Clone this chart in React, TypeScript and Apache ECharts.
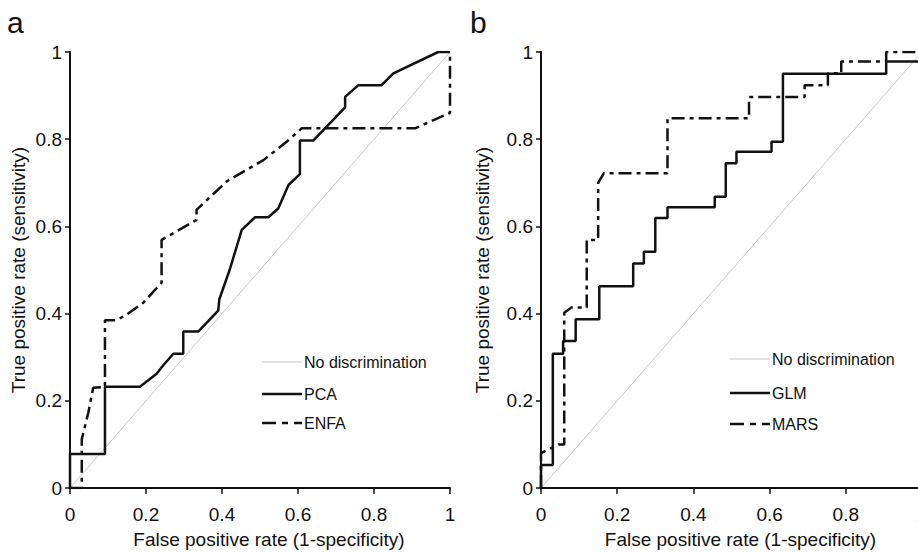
import React, { useEffect, useRef } from "react";
import * as echarts from "echarts";

const diagonal: number[][] = [[0, 0], [1, 1]];

const pca: number[][] = [[0,0],[0,0.078],[0.092,0.078],[0.092,0.232],[0.184,0.232],[0.228,0.262],[0.245,0.281],[0.272,0.308],[0.298,0.308],[0.298,0.359],[0.338,0.359],[0.39,0.407],[0.393,0.433],[0.42,0.5],[0.452,0.592],[0.487,0.621],[0.522,0.621],[0.548,0.641],[0.575,0.695],[0.605,0.72],[0.605,0.797],[0.64,0.797],[0.724,0.873],[0.724,0.897],[0.759,0.924],[0.82,0.924],[0.851,0.951],[0.969,1],[1,1]];

const enfa: number[][] = [[0,0],[0.031,0],[0.031,0.112],[0.048,0.172],[0.061,0.23],[0.092,0.232],[0.092,0.385],[0.123,0.385],[0.149,0.398],[0.193,0.425],[0.241,0.471],[0.241,0.569],[0.333,0.615],[0.333,0.638],[0.412,0.703],[0.509,0.752],[0.57,0.794],[0.61,0.825],[0.908,0.825],[0.996,0.859],[1,0.86],[1,1]];

const glm: number[][] = [[0,0],[0,0.053],[0.031,0.053],[0.031,0.308],[0.058,0.308],[0.058,0.337],[0.091,0.337],[0.091,0.387],[0.153,0.387],[0.153,0.463],[0.242,0.463],[0.242,0.515],[0.27,0.515],[0.27,0.542],[0.3,0.542],[0.3,0.619],[0.332,0.619],[0.332,0.644],[0.456,0.644],[0.456,0.668],[0.485,0.668],[0.485,0.745],[0.513,0.745],[0.513,0.771],[0.605,0.771],[0.605,0.794],[0.635,0.794],[0.635,0.95],[0.906,0.95],[0.906,0.978],[1,0.978]];

const mars: number[][] = [[0,0],[0,0.08],[0.046,0.1],[0.061,0.1],[0.061,0.402],[0.08,0.414],[0.12,0.414],[0.12,0.569],[0.15,0.569],[0.15,0.7],[0.165,0.722],[0.332,0.722],[0.332,0.848],[0.546,0.848],[0.546,0.897],[0.692,0.897],[0.692,0.924],[0.753,0.924],[0.753,0.951],[0.788,0.951],[0.788,0.978],[0.906,0.978],[0.906,1],[1,1]];

const xTitle = "False positive rate (1-specificity)";
const yTitle = "True positive rate (sensitivity)";
const legendA = ["No discrimination", "PCA", "ENFA"];
const legendB = ["No discrimination", "GLM", "MARS"];

const FONT = "Liberation Sans, Arial, sans-serif";
const DASHDOT = [13, 5, 4, 5];

function axisX(gridIndex: number) {
  return {
    type: "value", gridIndex, min: 0, max: 1, interval: 0.2,
    name: xTitle, nameLocation: "middle", nameGap: 42,
    nameTextStyle: { fontFamily: FONT, fontSize: 19, color: "#111", padding: [0, 0, 0, 18] },
    axisLine: { lineStyle: { color: "#111", width: 2 } },
    axisTick: { show: true, length: 6, lineStyle: { color: "#111", width: 1.5 } },
    axisLabel: { margin: 17, fontFamily: FONT, fontSize: 19, color: "#111", showMaxLabel: true },
    splitLine: { show: false },
  };
}
function axisY(gridIndex: number, gap: number) {
  return {
    type: "value", gridIndex, min: 0, max: 1, interval: 0.2,
    name: yTitle, nameLocation: "middle", nameGap: gap, nameRotate: 90,
    nameTextStyle: { fontFamily: FONT, fontSize: 19, color: "#111" },
    axisLine: { show: true, lineStyle: { color: "#111", width: 2 } },
    axisTick: { show: true, length: 5, lineStyle: { color: "#111", width: 1.5 } },
    axisLabel: { margin: 8, fontFamily: FONT, fontSize: 19, color: "#111" },
    splitLine: { show: false },
  };
}

function series(name: string, data: number[][], idx: number, kind: "diag" | "solid" | "dash") {
  const lineStyle =
    kind === "diag" ? { color: "#c8c8c8", width: 1 } :
    kind === "solid" ? { color: "#111", width: 2.5 } :
    { color: "#111", width: 2.5, type: DASHDOT };
  return {
    name, type: "line", data, xAxisIndex: idx, yAxisIndex: idx,
    symbol: "none", lineStyle, silent: true, z: kind === "diag" ? 1 : 3,
  };
}

function legendGraphic(x0: number, x1: number, ys: number[], labels: string[]) {
  const els: any[] = [];
  const styles = [
    { stroke: "#c8c8c8", lineWidth: 1 },
    { stroke: "#111", lineWidth: 2.5 },
    { stroke: "#111", lineWidth: 2.5, lineDash: [14, 6, 6, 6] },
  ];
  labels.forEach((t, i) => {
    els.push({ type: "line", shape: { x1: x0, y1: ys[i], x2: x1, y2: ys[i] }, style: styles[i] });
    els.push({
      type: "text", x: x1 + 2, y: ys[i],
      style: { text: t, fontFamily: FONT, fontSize: 16, fill: "#111", verticalAlign: "middle", align: "left" },
    });
  });
  return els;
}

export default function App() {
  const ref = useRef<HTMLDivElement>(null);
  useEffect(() => {
    if (!ref.current) return;
    const chart = echarts.init(ref.current, undefined, { renderer: "svg" });
    chart.setOption({
      animation: false,
      backgroundColor: "#fff",
      grid: [
        { left: 70, top: 52, width: 380, height: 436, outerBoundsMode: "none", containLabel: false },
        { left: 541, top: 52, width: 381, height: 436, outerBoundsMode: "none", containLabel: false },
      ],
      xAxis: [axisX(0), axisX(1)],
      yAxis: [axisY(0, 42), axisY(1, 49)],
      series: [
        series("No discrimination", diagonal, 0, "diag"),
        series("PCA", pca, 0, "solid"),
        series("ENFA", enfa, 0, "dash"),
        series("No discrimination", diagonal, 1, "diag"),
        series("GLM", glm, 1, "solid"),
        series("MARS", mars, 1, "dash"),
      ],
      graphic: [
        { type: "text", x: 7, y: 22, style: { text: "a", fontFamily: FONT, fontSize: 30, fill: "#111", verticalAlign: "middle" } },
        { type: "text", x: 470, y: 22, style: { text: "b", fontFamily: FONT, fontSize: 30, fill: "#111", verticalAlign: "middle" } },
        ...legendGraphic(262, 302, [362, 394, 423], legendA),
        ...legendGraphic(730, 770, [359, 393, 424], legendB),
      ],
    });
    return () => chart.dispose();
  }, []);
  return <div ref={ref} style={{ position: "fixed", left: 0, top: 0, width: 918, height: 552 }} />;
}
